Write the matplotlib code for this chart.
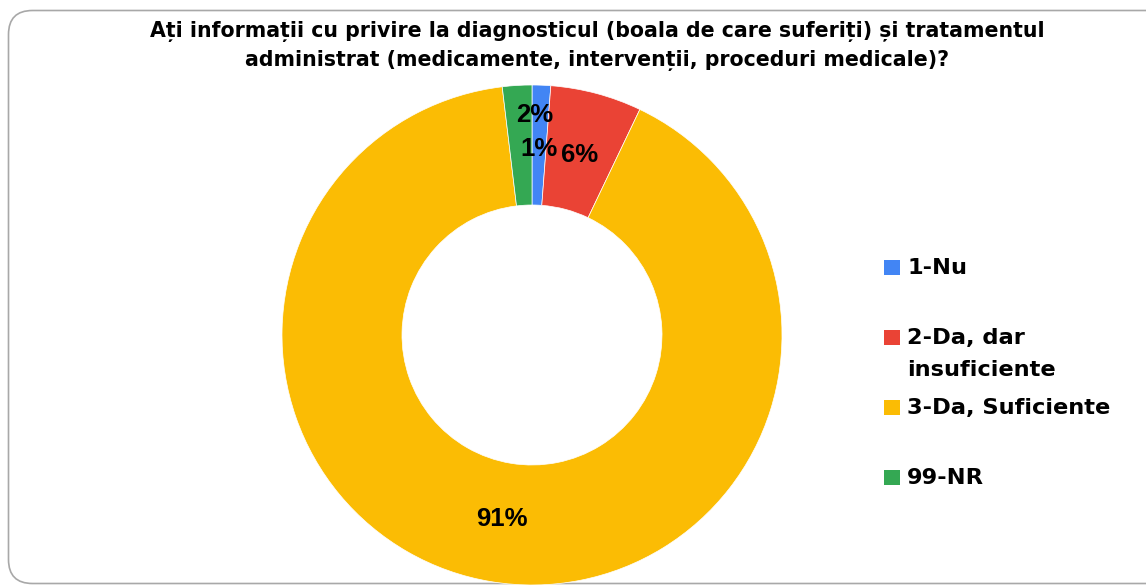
import matplotlib
matplotlib.use("Agg")
import matplotlib.pyplot as plt
import numpy as np
from matplotlib.patches import FancyBboxPatch, Rectangle

# Survey answers
categories = ["1-Nu", "2-Da, dar\ninsuficiente", "3-Da, Suficiente", "99-NR"]
shares = [1.2, 5.9, 91.0, 1.9]
colors = ["#4285F4", "#EA4335", "#FBBC04", "#34A853"]
title = ("Ați informații cu privire la diagnosticul (boala de care suferiți) și tratamentul\n"
         "administrat (medicamente, intervenții, proceduri medicale)?")

W, H = 1146, 586
fig = plt.figure(figsize=(W / 100, H / 100), dpi=100)
fig.patch.set_facecolor("white")

# background layer in pixel units, holding the rounded frame
bg = fig.add_axes([0, 0, 1, 1], zorder=-1)
bg.set_xlim(0, W)
bg.set_ylim(H, 0)
bg.axis("off")
bg.add_patch(FancyBboxPatch((8.5, 10.5), 1170, 573,
                            boxstyle="round,pad=0,rounding_size=24",
                            facecolor="white", edgecolor="#a8a8a8",
                            linewidth=1.2))

fig.text(597 / W, 1 - 46 / H, title, ha="center", va="center",
         fontsize=14.8, fontweight="bold", family="DejaVu Sans",
         linespacing=1.45)

# donut
cx, cy, R = 532, 335, 250
ax = fig.add_axes([(cx - R) / W, (H - cy - R) / H, 2 * R / W, 2 * R / H])
wedges, _ = ax.pie(shares, colors=colors, startangle=90, counterclock=False,
                   radius=1.0, wedgeprops=dict(width=0.48, edgecolor="white",
                                               linewidth=0.5))
ax.set_xlim(-1, 1)
ax.set_ylim(-1, 1)
ax.set_aspect("equal")
ax.axis("off")

# percentage labels at the ring's middle; the narrow slice label is nudged outward
label_tweaks = {3: (0.88, -4.0)}
for i, w in enumerate(wedges):
    mid = 0.5 * (w.theta1 + w.theta2)
    r = 0.745
    if i in label_tweaks:
        r, dth = label_tweaks[i]
        mid += dth
    x, y = r * np.cos(np.radians(mid)), r * np.sin(np.radians(mid))
    ax.text(x, y, f"{round(shares[i])}%", ha="center", va="center",
            fontsize=18.5, fontweight="bold", family="Liberation Sans")

# legend
lx, ly0, step = 884, 267, 70
for i, (lab, col) in enumerate(zip(categories, colors)):
    y = ly0 + i * step
    fig.patches.append(Rectangle((lx / W, 1 - (y + 8) / H), 16 / W, 15 / H,
                                 transform=fig.transFigure, facecolor=col,
                                 edgecolor="none"))
    fig.text(907 / W, 1 - (y - 9) / H, lab, ha="left", va="top",
             fontsize=16.2, fontweight="bold", family="DejaVu Sans",
             linespacing=1.75)

fig.savefig("out.png", dpi=100, facecolor="white")
